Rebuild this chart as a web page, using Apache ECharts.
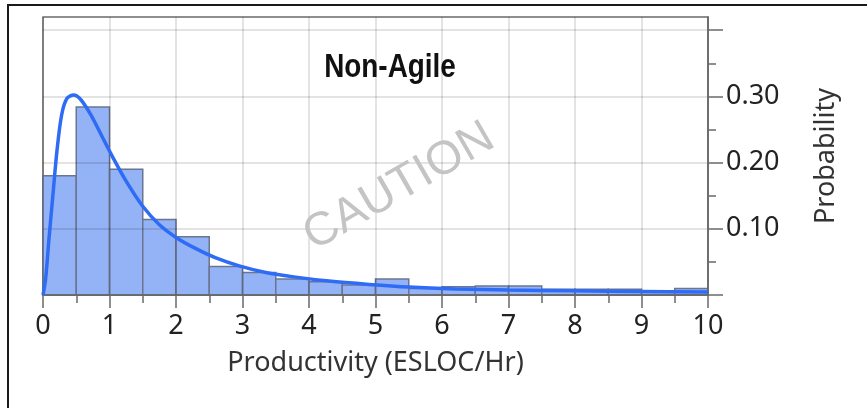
<!DOCTYPE html>
<html><head><meta charset="utf-8">
<script src="https://cdn.jsdelivr.net/npm/echarts@6/dist/echarts.min.js"></script>
<style>html,body{margin:0;padding:0;background:#fff}#c{width:867px;height:408px}</style>
</head><body><div id="c"></div>
<script>
// ---- data ----
const chartTitle = 'Non-Agile';
const watermark = 'CAUTION';
const xAxisName = 'Productivity (ESLOC/Hr)';
const yAxisName = 'Probability';
const binStarts = [0,0.5,1,1.5,2,2.5,3,3.5,4,4.5,5,5.5,6,6.5,7,7.5,8,8.5,9,9.5];
const binEnds   = [0.5,1,1.5,2,2.5,3,3.5,4,4.5,5,5.5,6,6.5,7,7.5,8,8.5,9,9.5,10];
const probabilities = [0.180,0.284,0.190,0.114,0.088,0.043,0.034,0.024,0.020,0.015,0.024,0.010,0.0125,0.0135,0.0135,0.0086,0.0086,0.0086,0.0065,0.010];
const curveX = [0,0.04,0.09,0.15,0.21,0.28,0.36,0.46,0.57,0.72,0.88,1.05,1.25,1.5,1.75,2.0,2.3,2.6,2.95,3.35,3.8,4.3,4.9,5.5,6.2,7,8,9,10];
const curveY = [0,0.025,0.085,0.152,0.218,0.272,0.297,0.302,0.295,0.272,0.241,0.208,0.172,0.134,0.106,0.087,0.070,0.056,0.044,0.034,0.027,0.021,0.016,0.012,0.0092,0.0075,0.0063,0.0054,0.0047];
const yLabelValues = [0.1,0.2,0.3];

const chart = echarts.init(document.getElementById('c'), null, {renderer:'canvas'});
const axisColor = '#6a6a6a';
const gridLine = 'rgba(0,0,0,0.15)';
const font = 'Noto Sans';

chart.setOption({
  animation:false,
  backgroundColor:'#ffffff',
  grid:{left:43,right:159,top:17,bottom:113,show:true,borderColor:axisColor,borderWidth:1.5,z:0},
  graphic:[
    {type:'rect',z:100,silent:true,shape:{x:8,y:5,width:900,height:500},style:{fill:'none',stroke:'#1a1a1a',lineWidth:2}},
    {type:'text',z:100,x:390,y:68,scaleX:0.82,style:{text:chartTitle,font:'bold 34px "Liberation Sans", Arial, sans-serif',fill:'#111',textAlign:'center',textVerticalAlign:'middle'}},
    {type:'text',z:100,x:399,y:187,rotation:Math.PI/6,style:{text:watermark,font:'47px "Liberation Sans", Arial, sans-serif',fill:'#c4c4c4',textAlign:'center',textVerticalAlign:'middle'}}
  ],
  xAxis:{
    type:'value',min:0,max:10,interval:1,position:'bottom',z:2,
    axisLine:{show:true,onZero:false,lineStyle:{color:axisColor,width:1.5}},
    axisTick:{show:true,length:13,lineStyle:{color:axisColor,width:1.5}},
    minorTick:{show:true,splitNumber:2,length:8,lineStyle:{color:axisColor,width:1.5}},
    axisLabel:{margin:18,color:'#222',fontSize:27,fontFamily:font},
    splitLine:{show:true,lineStyle:{color:gridLine,width:1.5}},
    name:xAxisName,nameLocation:'middle',nameGap:55,
    nameTextStyle:{color:'#333',fontSize:27,fontFamily:font}
  },
  yAxis:{
    type:'value',position:'right',min:0,max:0.42,interval:0.1,z:2,
    axisLine:{show:true,onZero:false,lineStyle:{color:axisColor,width:1.5}},
    axisTick:{show:true,length:15,customValues:[0,0.1,0.2,0.3,0.4],lineStyle:{color:axisColor,width:1.5}},
    minorTick:{show:true,splitNumber:2,length:8,lineStyle:{color:axisColor,width:1.5}},
    axisLabel:{margin:18,color:'#222',fontSize:27,fontFamily:font,
      formatter:function(v){
        for (const t of yLabelValues){ if (Math.abs(v-t)<1e-6) return t.toFixed(2); }
        return '';
      }},
    splitLine:{show:true,lineStyle:{color:gridLine,width:1.5}},
    name:yAxisName,nameLocation:'middle',nameRotate:90,nameGap:105,
    nameTextStyle:{color:'#333',fontSize:27,fontFamily:font}
  },
  series:[
    {
      type:'custom',z:1,
      data:binStarts.map((s,i)=>[s,binEnds[i],probabilities[i]]),
      encode:{x:[0,1],y:2},
      renderItem:function(params,api){
        const p0 = api.coord([api.value(0), api.value(2)]);
        const p1 = api.coord([api.value(1), 0]);
        return {type:'rect',shape:{x:p0[0],y:p0[1],width:p1[0]-p0[0],height:p1[1]-p0[1]},
          style:{fill:'#94b2f6',stroke:'#6b7590',lineWidth:1.5}};
      }
    },
    {
      type:'line',z:5,
      data:curveX.map((x,i)=>[x,curveY[i]]),
      showSymbol:false,smooth:0.3,
      lineStyle:{color:'#2e6cf5',width:3.5}
    }
  ]
});
</script></body></html>
